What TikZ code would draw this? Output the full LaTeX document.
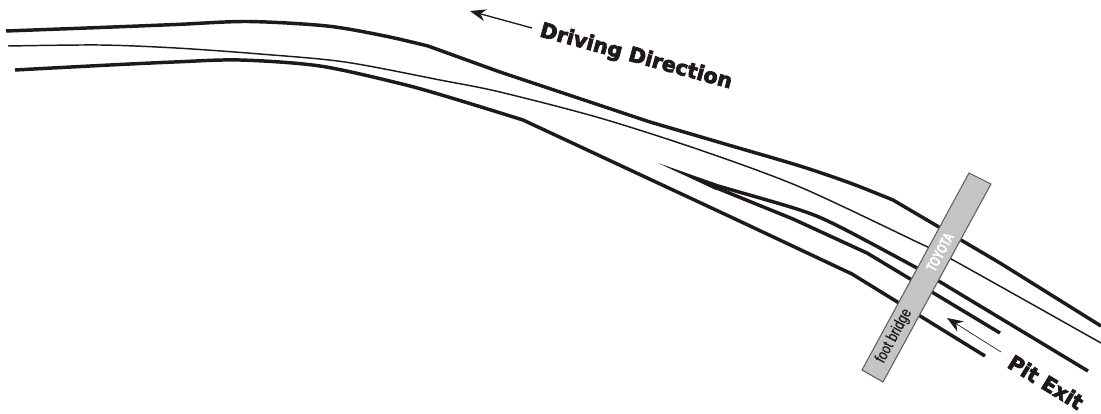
\documentclass[tikz,border=0pt]{standalone}
\usepackage{graphicx}
\usepackage{fontspec}
\setmainfont{Liberation Sans}
\newfontfamily\heavy[FakeBold=3.5]{DejaVu Sans Bold}
\newfontfamily\plaque[FakeBold=1]{Liberation Sans Bold}
\newfontfamily\plaqueb[FakeBold=.6]{Liberation Sans}
\usetikzlibrary{arrows.meta}
\definecolor{ink}{HTML}{1E1A17}
\definecolor{deck}{HTML}{C4C4C4}
\tikzset{
  rail/.style={draw=ink,line width=2.6pt,line join=round},
  railthin/.style={draw=ink,line width=1.1pt,line join=round},
  dirarrow/.style={draw=ink,line width=1pt,-{Stealth[length=12pt,width=9pt]}},
  pitarrow/.style={draw=ink,line width=.5pt,-{Stealth[length=12pt,width=9pt]}},
  heavytext/.style={text=ink,inner sep=0pt},
  bridge/.style={fill=deck,draw=ink!70,line width=.8pt,line join=miter},
}
\begin{document}
\begin{tikzpicture}[x=0.75pt,y=-0.75pt]
\useasboundingbox (0,0) rectangle (1101,414);
% outer edge
\draw[rail] plot[smooth,tension=.5] coordinates {(6,31) (100,27.5) (176,24.5) (248,21.5) (327,26) (385,36) (428,46)}
  -- (500,72) -- (650,122) plot[smooth,tension=.5] coordinates {(650,122) (725,144) (800,166) (850,183) (893,200)}
  -- (1000,263) -- (1101,326);
% centre line
\draw[railthin] plot[smooth,tension=.5] coordinates {(8,46) (100,45) (176,48) (260,54) (345,62) (440,80) (500,92) (600,118) (700,150) (800,187) (917,242) (953,260) (1101,343)};
% inner edge
\draw[rail] plot[smooth,tension=.5] coordinates {(15,70) (100,65.5) (174,62) (240,60) (320,66) (402,84) (455,99) (523,120)}
  -- (733,218) -- (852,274) -- (985,356);
% pit lane
\fill[ink] (658,163) -- (716,183.5) -- (716,190) -- cycle;
\draw[rail] plot[smooth,tension=.5] coordinates {(700,180) (713,184.5) (800,210) (840,227) (917,268)} -- (1088,371);
\draw[rail] (700,180) -- (713,186.5) -- (793,219) -- (867,253) -- (1000,333);
% arrows
\coordinate (dTail) at (532,28); \coordinate (dTip) at (470,11);
\coordinate (pTail) at (1001,352); \coordinate (pTip) at (947,318);
\draw[dirarrow] (dTail) -- (dTip);
\draw[pitarrow] (pTail) -- (pTip);
% bridge
\draw[bridge] (969,173) -- (991,184) -- (883,382) -- (862,370) -- cycle;
\node[text=white,inner sep=0pt,rotate=61.5,font=\plaque\fontsize{11.5}{11.5}\selectfont] (toyota) at (940,252) {\scalebox{.66}[1]{TOYOTA}};
\node[text=ink,inner sep=0pt,rotate=61.5,font=\plaqueb\fontsize{12}{12}\selectfont] (foot) at (894,336) {\scalebox{.78}[1]{foot bridge}};
% labels
\node[heavytext,rotate=-15.3,font=\heavy\fontsize{15.5}{15.5}\selectfont] (drive) at (636,57) {Driving Direction};
\node[heavytext,rotate=-31.5,font=\heavy\fontsize{15.5}{15.5}\selectfont] (pit) at (1046,382) {Pit Exit};
\end{tikzpicture}
\end{document}
